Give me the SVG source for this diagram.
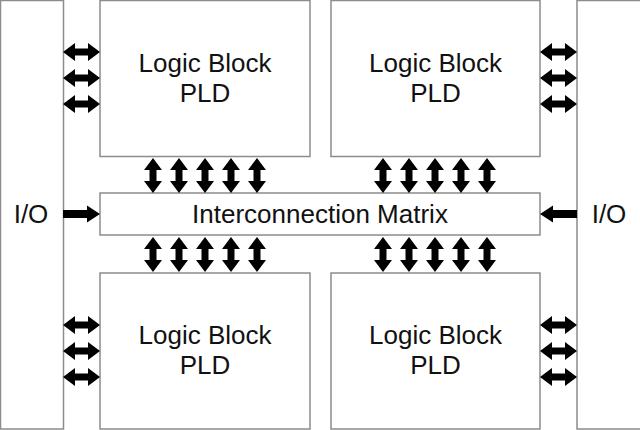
<svg xmlns="http://www.w3.org/2000/svg" xmlns:xlink="http://www.w3.org/1999/xlink" width="640" height="430" viewBox="0 0 640 430">
<style>
.box{fill:#fff;stroke:#8c8c8c;stroke-width:1.5}
.t{font-family:"Liberation Sans",Arial,sans-serif;font-size:26px;fill:#111;text-anchor:middle}
.a{fill:#000}
</style>
<defs>
<path id="ha" d="M0,0 L12,-9 L12,-3.5 L25,-3.5 L25,-9 L37,0 L25,9 L25,3.5 L12,3.5 L12,9 Z"/>
<path id="va" d="M0,0 L-9,12 L-3.5,12 L-3.5,23 L-9,23 L0,35 L9,23 L3.5,23 L3.5,12 L9,12 Z"/>
</defs>
<rect width="640" height="430" fill="#fff"/>
<g id="io-left">
<rect class="box" x="0.5" y="0.5" width="63" height="428.5"/>
<text class="t" x="31" y="223">I/O</text>
</g>
<g id="io-right">
<rect class="box" x="577" y="0.5" width="64" height="428.5"/>
<text class="t" x="609" y="223">I/O</text>
</g>
<g id="lb-tl">
<rect class="box" x="100" y="0.5" width="210" height="156"/>
<text class="t" x="205" y="72">Logic Block</text>
<text class="t" x="205" y="102">PLD</text>
</g>
<g id="lb-tr">
<rect class="box" x="331" y="0.5" width="209" height="156"/>
<text class="t" x="435.5" y="72">Logic Block</text>
<text class="t" x="435.5" y="102">PLD</text>
</g>
<g id="lb-bl">
<rect class="box" x="100" y="273" width="210" height="156"/>
<text class="t" x="205" y="344">Logic Block</text>
<text class="t" x="205" y="374">PLD</text>
</g>
<g id="lb-br">
<rect class="box" x="331" y="273" width="209" height="156"/>
<text class="t" x="435.5" y="344">Logic Block</text>
<text class="t" x="435.5" y="374">PLD</text>
</g>
<g id="matrix">
<rect class="box" x="100" y="193" width="440" height="42"/>
<text class="t" x="320" y="223">Interconnection Matrix</text>
</g>
<g id="connectors" class="a">
<use href="#ha" x="63" y="52"/>
<use href="#ha" x="63" y="78"/>
<use href="#ha" x="63" y="104"/>
<use href="#ha" x="63" y="325"/>
<use href="#ha" x="63" y="351"/>
<use href="#ha" x="63" y="377"/>
<use href="#ha" x="540" y="52"/>
<use href="#ha" x="540" y="78"/>
<use href="#ha" x="540" y="104"/>
<use href="#ha" x="540" y="325"/>
<use href="#ha" x="540" y="351"/>
<use href="#ha" x="540" y="377"/>
<use href="#va" x="153" y="158"/>
<use href="#va" x="179" y="158"/>
<use href="#va" x="205" y="158"/>
<use href="#va" x="231" y="158"/>
<use href="#va" x="257" y="158"/>
<use href="#va" x="383" y="158"/>
<use href="#va" x="409" y="158"/>
<use href="#va" x="435" y="158"/>
<use href="#va" x="461" y="158"/>
<use href="#va" x="487" y="158"/>
<use href="#va" x="153" y="237"/>
<use href="#va" x="179" y="237"/>
<use href="#va" x="205" y="237"/>
<use href="#va" x="231" y="237"/>
<use href="#va" x="257" y="237"/>
<use href="#va" x="383" y="237"/>
<use href="#va" x="409" y="237"/>
<use href="#va" x="435" y="237"/>
<use href="#va" x="461" y="237"/>
<use href="#va" x="487" y="237"/>
<path d="M63,210 L87,210 L87,205.5 L100,214 L87,222.5 L87,218 L63,218 Z"/>
<path d="M577,210 L553,210 L553,205.5 L540,214 L553,222.5 L553,218 L577,218 Z"/>
</g>
</svg>
